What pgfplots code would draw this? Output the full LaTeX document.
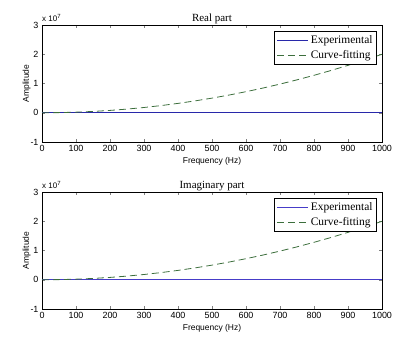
\documentclass[border=0pt]{standalone}
\usepackage{fontspec}
\setmainfont{Liberation Serif}
\setsansfont{Liberation Sans}
\usepackage{pgfplots}
\pgfplotsset{compat=1.18}
\definecolor{expc}{RGB}{40,40,170}
\definecolor{fitc}{RGB}{60,110,60}
\pgfplotstableread{
f v
0 0
50 0.005
100 0.02
150 0.045
200 0.08
250 0.125
300 0.18
350 0.245
400 0.32
450 0.405
500 0.5
550 0.605
600 0.72
650 0.845
700 0.98
750 1.125
800 1.28
850 1.445
900 1.62
950 1.805
1000 2.0
}\fitdata
\pgfplotstableread{
f v
0 0
1000 0
}\expdata
\pgfplotsset{myax/.style={
  scale only axis, width=340bp, height=117bp, clip=false,
  xmin=0, xmax=1000, ymin=-1, ymax=3,
  xtick={0,100,...,1000}, ytick={-1,0,1,2,3},
  tick align=inside, major tick length=3bp,
  tick style={line width=0.4pt},
  axis line style={line width=0.6pt},
  tick label style={font=\sffamily\fontsize{9}{10}\selectfont},
  /pgf/number format/assume math mode=true,
  /pgf/number format/set thousands separator={},
  xlabel={Frequency (Hz)}, ylabel={Amplitude},
  label style={font=\sffamily\fontsize{8.5}{9}\selectfont},
  xlabel style={yshift=1bp},
  ylabel style={yshift=-7bp},
  title style={font=\rmfamily\fontsize{11}{12}\selectfont, yshift=-8bp},
  legend style={at={(rel axis cs:0.985,0.95)}, anchor=north east,
    font=\rmfamily\fontsize{11.5}{13}\selectfont, line width=0.8pt,
    inner xsep=2pt, inner ysep=2pt, row sep=2pt},
  legend cell align=left,
  legend image code/.code={\draw[#1, line width=0.8pt] (0cm,0cm) -- (1.1cm,0cm);},
}}
\begin{document}
\begin{tikzpicture}
\path[use as bounding box] (0,0) rectangle (396bp,-343bp);
\begin{axis}[myax, at={(42bp,-142bp)}, anchor=south west, title={Real part}]
\addplot[color=expc, line width=0.8pt] table[x=f,y=v] {\expdata};
\addlegendentry{Experimental}
\addplot[color=fitc, dash pattern=on 7bp off 4bp, line width=0.8pt] table[x=f,y=v] {\fitdata};
\addlegendentry{Curve-fitting}
\node[anchor=south west, font=\sffamily\fontsize{8}{9}\selectfont, inner sep=0pt] at (rel axis cs:0,1.03) {x 10\textsuperscript{7}};
\end{axis}
\begin{axis}[myax, at={(42bp,-309bp)}, anchor=south west, title={Imaginary part}]
\addplot[draw={rgb,255:red,70;green,60;blue,200}, line width=1pt] table[x=f,y=v] {\expdata};
\addlegendentry{Experimental}
\addplot[color=fitc, dash pattern=on 7bp off 4bp, line width=0.8pt] table[x=f,y=v] {\fitdata};
\addlegendentry{Curve-fitting}
\node[anchor=south west, font=\sffamily\fontsize{8}{9}\selectfont, inner sep=0pt] at (rel axis cs:0,1.03) {x 10\textsuperscript{7}};
\end{axis}
\end{tikzpicture}
\end{document}
